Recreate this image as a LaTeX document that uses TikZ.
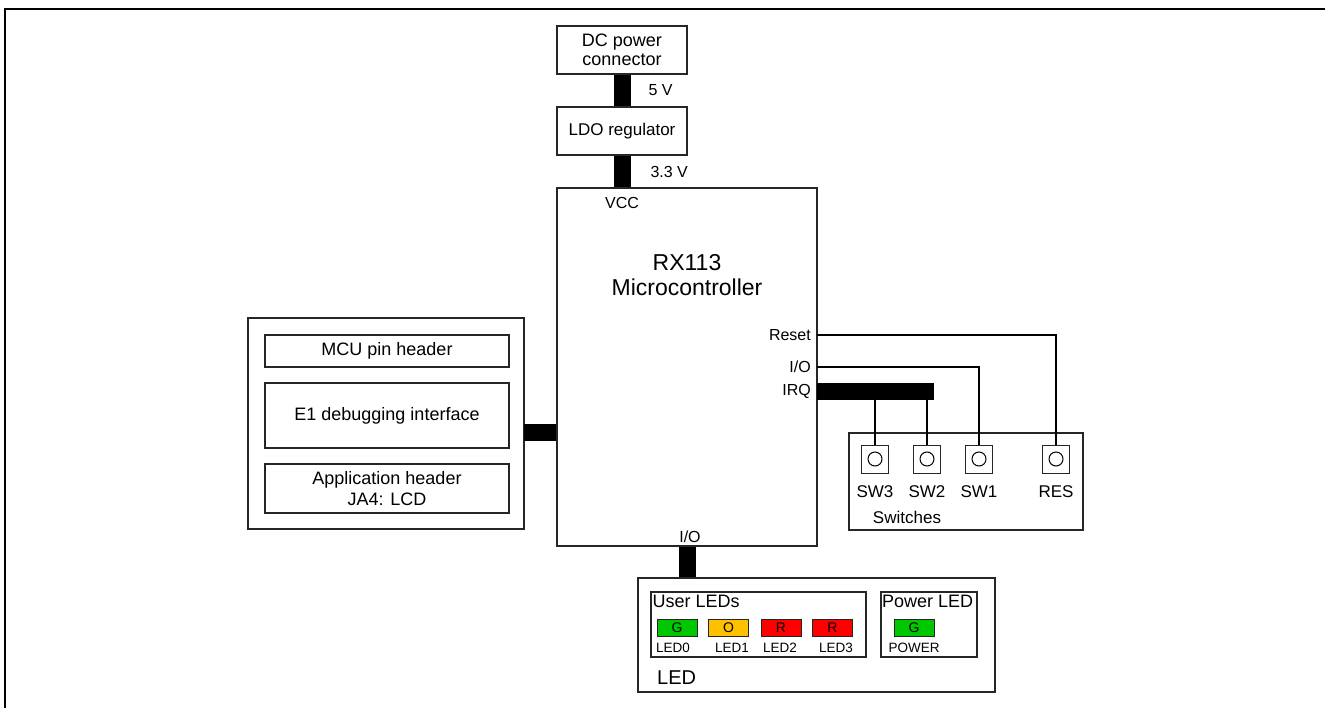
\documentclass[tikz,border=0pt]{standalone}
\usepackage{fontspec}
\setmainfont{Liberation Sans}
\usetikzlibrary{positioning,calc}

\definecolor{ledgreen}{RGB}{0,200,0}
\definecolor{ledorange}{RGB}{255,192,0}
\definecolor{ledred}{RGB}{255,0,0}

\tikzset{
  blk/.style={draw=black!85, line width=1.2pt, inner sep=0pt, align=center, font=\fontsize{18}{20}\selectfont},
  bus/.style={line width=17pt},
  wire/.style={line width=1.8pt},
  lbl/.style={inner sep=1pt, font=\fontsize{16}{18}\selectfont},
  ledbox/.style={draw=black!85, line width=1pt, minimum width=40pt, minimum height=17pt, inner sep=0pt, font=\fontsize{14}{14}\selectfont},
  swbtn/.style={draw=black!85, line width=1pt, minimum width=27pt, minimum height=28pt, inner sep=0pt},
}

\begin{document}
\begin{tikzpicture}[x=1pt,y=-1pt]
    \useasboundingbox (0,0) rectangle (1325,708);
    \draw[line width=2pt] (5,708) -- (5,9) -- (1325,9);

    % power path
    \node[blk, minimum width=130pt, minimum height=48pt, font=\fontsize{18}{19}\selectfont] (dc) at (622,50) {DC power\\connector};
    \node[blk, minimum width=130pt, minimum height=48pt, font=\fontsize{17}{19}\selectfont] (ldo) at (622,131) {LDO regulator};
    \node[blk, minimum width=260pt, minimum height=358pt] (mcu) at (687,367) {};
    \draw[bus] (dc) -- (ldo) node[midway, lbl, anchor=west, xshift=17pt] {5 V};
    \draw[bus] (ldo) -- (mcu.north -| ldo) node[midway, lbl, anchor=west, xshift=19pt] {3.3 V};
    \node[lbl] (vcc) at (622,203) {VCC};
    \node[lbl, align=center, font=\fontsize{23}{25}\selectfont] (mcuname) at (687,275) {RX113\\Microcontroller};

    % debug / headers
    \node[blk, minimum width=276pt, minimum height=211pt] (dbg) at (386,423.5) {};
    \node[blk, minimum width=244pt, minimum height=32pt] (pinhdr) at (387,351) {MCU pin header};
    \node[blk, minimum width=244pt, minimum height=65pt] (e1) at (387,415.5) {E1 debugging interface};
    \node[blk, minimum width=244pt, minimum height=49pt, font=\fontsize{18}{21}\selectfont] (apphdr) at (387,488.5) {Application header\\JA4: LCD};
    \coordinate (dbgport) at (524,432);
    \draw[bus] (dbgport) -- (dbgport -| mcu.west);

    % switches
    \coordinate (rst) at (817,335);
    \coordinate (io) at (817,367);
    \coordinate (irq) at (817,391.5);
    \coordinate (irqend) at (934,391.5);
    \node[lbl, left=5pt of rst] (rstlbl) {Reset};
    \node[lbl, left=5pt of io] (iolbl) {I/O};
    \node[lbl, left=5pt of irq] (irqlbl) {IRQ};
    \node[blk, minimum width=234pt, minimum height=97pt] (swbox) at (966,481.5) {};
    \foreach \nm/\x/\lab in {sw3/875/SW3, sw2/927/SW2, sw1/979/SW1, res/1056/RES} {
        \node[swbtn] (\nm) at (\x,459) {};
        \draw[line width=1pt] (\nm.center) circle (7pt);
        \node[lbl, font=\fontsize{17}{18}\selectfont] (\nm lbl) at (\x,492) {\lab};
    }
    \node[lbl, font=\fontsize{17}{18}\selectfont] (swname) at (907,517) {Switches};
    \draw[bus] (irq) -- (irqend);
    \draw[wire] (rst) -| (res.north);
    \draw[wire] (io) -| (sw1.north);
    \draw[wire] (sw3.north) -- (sw3.north |- irq);
    \draw[wire] (sw2.north) -- (sw2.north |- irq);

    % LEDs
    \node[blk, minimum width=357pt, minimum height=114pt] (led) at (816.5,635) {};
    \draw[bus] (mcu.south) -- (mcu.south |- led.north);
    \node[lbl, above=3pt of mcu.south, xshift=3pt] (ledio) {I/O};
    \node[blk, minimum width=215pt, minimum height=65pt] (userleds) at (758.5,624.5) {};
    \node[blk, minimum width=96pt, minimum height=65pt] (pwrleds) at (929,624.5) {};
    \node[lbl, anchor=north west, inner sep=2pt, yshift=-2pt, font=\fontsize{18}{19}\selectfont] (userlbl) at (userleds.north west) {User LEDs};
    \node[lbl, anchor=north west, inner sep=1.5pt, yshift=-2pt, font=\fontsize{18}{19}\selectfont] (pwrlbl) at (pwrleds.north west) {Power LED};
    \foreach \nm/\x/\c/\t/\lx/\lab in {led0/677/ledgreen/G/673/LED0, led1/728.5/ledorange/O/732/LED1,
                                      led2/781/ledred/R/780/LED2, led3/832.5/ledred/R/836/LED3,
                                      ledpwr/914/ledgreen/G/914/POWER} {
        \node[ledbox, fill=\c] (\nm) at (\x,627.5) {\t};
        \node[lbl, font=\fontsize{13.5}{15}\selectfont] (\nm lbl) at (\lx,648) {\lab};
    }
    \node[lbl, anchor=west, font=\fontsize{20}{22}\selectfont] (ledname) at (656,678) {LED};
\end{tikzpicture}
\end{document}
